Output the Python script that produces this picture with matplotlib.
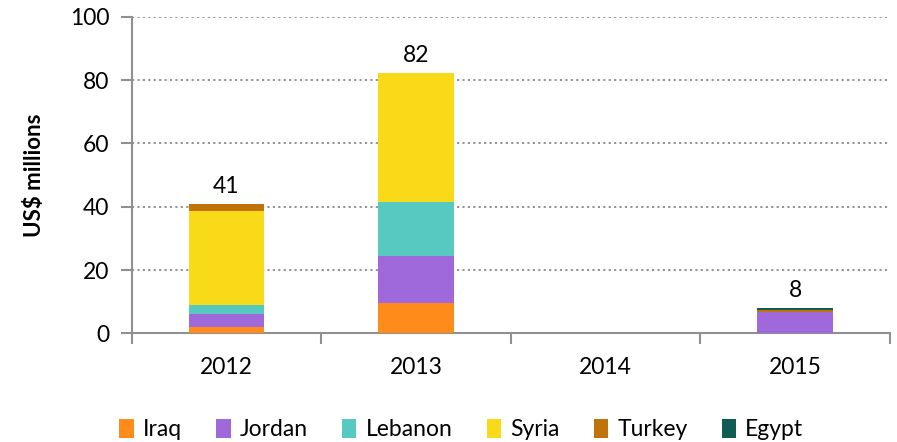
"""Stacked bar chart: humanitarian funding by recipient country, 2012-2015."""

import matplotlib

matplotlib.use("Agg")
import matplotlib.pyplot as plt
import numpy as np

years = ["2012", "2013", "2014", "2015"]
countries = ["Iraq", "Jordan", "Lebanon", "Syria", "Turkey", "Egypt"]

iraq = [2.1, 9.7, 0.0, 0.0]
jordan = [4.1, 14.7, 0.0, 6.9]
lebanon = [2.8, 17.1, 0.0, 0.0]
syria = [29.8, 40.6, 0.0, 0.0]
turkey = [2.1, 0.0, 0.0, 0.5]
egypt = [0.0, 0.0, 0.0, 0.6]
totals_shown = [41, 82, None, 8]

colors = ["#FF8C1A", "#9F69DB", "#57C9C0", "#F8DA18", "#C0730A", "#0E5C52"]

plt.rcParams["font.family"] = ["Lato", "DejaVu Sans"]

fig = plt.figure(figsize=(8.97, 4.42), dpi=100)
ax = fig.add_axes([0.1468, 0.2455, 0.8452, 0.7167])

x = np.arange(len(years))
series = [iraq, jordan, lebanon, syria, turkey, egypt]
bottom = np.zeros(len(years))
for name, vals, col in zip(countries, series, colors):
    vals = np.array(vals)
    ax.bar(x, vals, 0.40, bottom=bottom, color=col, label=name, zorder=3)
    bottom += vals

for xi, top, lab in zip(x, bottom, totals_shown):
    if lab is not None:
        ax.text(xi, top + 2.3, str(lab), ha="center", va="bottom", fontsize=16.5)

ax.set_xlim(-0.5, len(years) - 0.5)
ax.set_ylim(0, 100)
ax.set_yticks(range(0, 101, 20))
ax.set_xticks(x)
ax.set_xticklabels(years)
ax.set_xticks(np.arange(-0.5, len(years)), minor=True)
ax.tick_params(axis="x", which="major", length=0, pad=17, labelsize=16.5)
ax.tick_params(axis="x", which="minor", length=8, width=1.5, color="#909090")
ax.tick_params(axis="y", length=8, width=1.5, color="#909090", labelsize=16.5, pad=8)

ax.yaxis.grid(True, linestyle=(0, (1.2, 1.8)), color="#8a8a8a", linewidth=1.3, zorder=0)
for side in ["top", "right"]:
    ax.spines[side].set_visible(False)
for side in ["left", "bottom"]:
    ax.spines[side].set_color("#909090")
    ax.spines[side].set_linewidth(1.5)

ax.set_ylabel("US$ millions", fontsize=16, fontweight="bold", labelpad=18)

ax.legend(
    loc="upper center",
    bbox_to_anchor=(0.435, -0.205),
    ncol=6,
    frameon=False,
    fontsize=16.5,
    handlelength=0.62,
    handleheight=0.9,
    handletextpad=0.4,
    columnspacing=1.5,
)

fig.savefig("out.png", dpi=100)
